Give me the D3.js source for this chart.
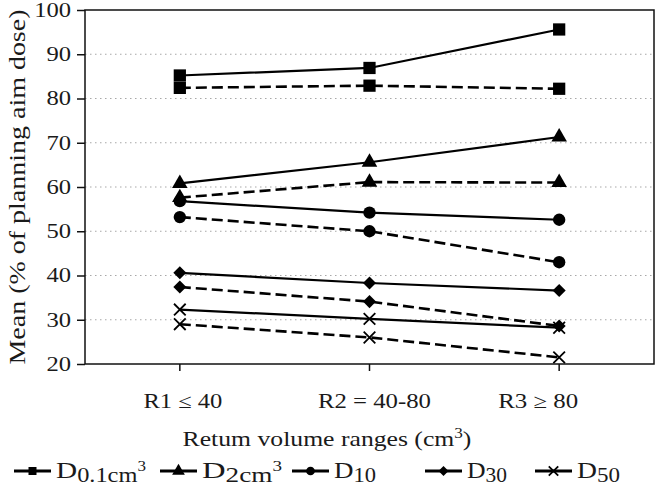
<!DOCTYPE html>
<html>
<head>
<meta charset="utf-8">
<script src="https://cdn.jsdelivr.net/npm/d3@7"></script>
<style>
html,body{margin:0;padding:0;background:#fff;}
text{font-family:"Liberation Serif","DejaVu Serif",serif;fill:#1a1a1a;}
</style>
</head>
<body>
<svg id="chart" width="655" height="487"></svg>
<script>
// ---- data ----
const categories = ["R1 \u2264 40", "R2 = 40-80", "R3 \u2265 80"];
const yTicks = [20, 30, 40, 50, 60, 70, 80, 90, 100];
const seriesNames = ["D0.1cm3", "D2cm3", "D10", "D30", "D50"];
const seriesSymbols = ["square", "triangle", "circle", "diamond", "cross"];
// solid lines
const d01Solid = [85.2, 86.9, 95.6];
const d2Solid  = [60.8, 65.6, 71.3];
const d10Solid = [56.8, 54.2, 52.6];
const d30Solid = [40.6, 38.3, 36.6];
const d50Solid = [32.3, 30.2, 28.2];
// dashed lines
const d01Dashed = [82.4, 82.9, 82.2];
const d2Dashed  = [57.6, 61.1, 61.0];
const d10Dashed = [53.2, 50.0, 43.0];
const d30Dashed = [37.4, 34.1, 28.6];
const d50Dashed = [29.0, 26.0, 21.5];

const series = [
  {sym:"square", dash:false, v:d01Solid},
  {sym:"square", dash:true,  v:d01Dashed},
  {sym:"triangle", dash:false, v:d2Solid},
  {sym:"triangle", dash:true,  v:d2Dashed},
  {sym:"circle", dash:false, v:d10Solid},
  {sym:"circle", dash:true,  v:d10Dashed},
  {sym:"diamond", dash:false, v:d30Solid},
  {sym:"diamond", dash:true,  v:d30Dashed},
  {sym:"cross", dash:false, v:d50Solid},
  {sym:"cross", dash:true,  v:d50Dashed}
];

const svg = d3.select("#chart");
const L = 85, R = 654, T = 10, B = 364;

const x = d3.scaleBand().domain(categories).range([L, R]);
const y = d3.scaleLinear().domain([20, 100]).range([B, T]);

// stretch a text horizontally about its anchor point to a target width
function fitWidth(sel, target) {
  sel.each(function () {
    const node = this;
    const w = node.getBBox().width;
    if (!w) return;
    const s = target / w;
    const ax = +(node.getAttribute("x") || 0);
    node.setAttribute("transform", `translate(${ax},0) scale(${s},1) translate(${-ax},0)`);
  });
}

// gridlines
svg.append("g").selectAll("line").data(yTicks.filter(t => t > 20 && t < 100)).join("line")
  .attr("x1", L).attr("x2", R).attr("y1", d => y(d)).attr("y2", d => y(d))
  .attr("stroke", "#a8a8a8").attr("stroke-width", 1.2).attr("stroke-dasharray", "1.5,3.5");

// frame
svg.append("rect").attr("x", L).attr("y", T).attr("width", R - L).attr("height", B - T)
  .attr("fill", "none").attr("stroke", "#111").attr("stroke-width", 1.5);

// y axis
const yAxis = d3.axisLeft(y).tickValues(yTicks).tickSize(8).tickPadding(6);
const gy = svg.append("g").attr("transform", `translate(${L},0)`).call(yAxis);
gy.select(".domain").remove();
gy.selectAll(".tick line").attr("stroke", "#111").attr("stroke-width", 1.5);
gy.selectAll(".tick text").style("font-size", "20px").attr("fill", "#1a1a1a")
  .attr("font-family", "Liberation Serif")
  .each(function (d) { fitWidth(d3.select(this), String(d).length * 12.3); });

// x axis
const xLabelShift = [3, 5, -21];
const xAxis = d3.axisBottom(x).tickSize(7).tickPadding(23);
const gx = svg.append("g").attr("transform", `translate(0,${B})`).call(xAxis);
gx.select(".domain").remove();
gx.selectAll(".tick line").attr("stroke", "#111").attr("stroke-width", 1.5);
const xLabelW = [79, 113, 80];
gx.selectAll(".tick text").style("font-size", "20px").attr("fill", "#1a1a1a")
  .attr("font-family", "Liberation Serif")
  .attr("x", (d, i) => xLabelShift[i])
  .each(function (d, i) { fitWidth(d3.select(this), xLabelW[i]); });

// axis titles
svg.append("text").attr("transform", "translate(25,187) rotate(-90)")
  .attr("text-anchor", "middle").style("font-size", "24px")
  .attr("textLength", 355).attr("lengthAdjust", "spacingAndGlyphs")
  .text("Mean (% of planning aim dose)");
const xt = svg.append("text").attr("x", 327).attr("y", 446)
  .attr("text-anchor", "middle").style("font-size", "21px");
xt.append("tspan").text("Retum volume ranges (cm");
xt.append("tspan").attr("dy", -8).style("font-size", "14px").text("3");
xt.append("tspan").attr("dy", 8).text(")");
fitWidth(xt, 289);

// markers
const symMap = {
  square: d3.symbolSquare, triangle: d3.symbolTriangle, circle: d3.symbolCircle,
  diamond: d3.symbolSquare, cross: d3.symbolX
};
const symRot = {square: 0, triangle: 0, circle: 0, diamond: 45, cross: 0};
const symSize = {square: 150, triangle: 105, circle: 120, diamond: 85, cross: 90};
const line = d3.line().x((d, i) => x(categories[i]) + x.bandwidth() / 2).y(d => y(d));

series.forEach(s => {
  svg.append("path").attr("d", line(s.v)).attr("fill", "none")
    .attr("stroke", "#000").attr("stroke-width", s.dash ? 2.6 : 2.2)
    .attr("stroke-dasharray", s.dash ? "11,5" : null);
});
series.forEach(s => {
  const isX = s.sym === "cross";
  svg.append("g").selectAll("path").data(s.v).join("path")
    .attr("transform", (d, i) => `translate(${x(categories[i]) + x.bandwidth() / 2},${y(d)}) rotate(${symRot[s.sym]})`)
    .attr("d", d3.symbol(symMap[s.sym], symSize[s.sym]))
    .attr("fill", isX ? "none" : "#000")
    .attr("stroke", "#000").attr("stroke-width", isX ? 1.8 : 0);
});

// legend
const legendItems = [
  {sym:"square", x:14, w:90, label:["D","0.1cm","3"]},
  {sym:"triangle", x:160, w:80, label:["D","2cm","3"]},
  {sym:"circle", x:292, w:42, label:["D","10",null]},
  {sym:"diamond", x:425, w:40, label:["D","30",null]},
  {sym:"cross", x:535, w:43, label:["D","50",null]}
];
const legSize = {square: 64, triangle: 70, circle: 60, diamond: 50, cross: 60};
const ly = 471;
legendItems.forEach((it, k) => {
  const g = svg.append("g");
  g.append("line").attr("x1", it.x).attr("x2", it.x + 37).attr("y1", ly).attr("y2", ly)
    .attr("stroke", "#000").attr("stroke-width", 2.8);
  g.append("path").attr("transform", `translate(${it.x + 18.5},${ly}) rotate(${symRot[it.sym]})`)
    .attr("d", d3.symbol(symMap[it.sym], legSize[it.sym]))
    .attr("fill", it.sym === "cross" ? "none" : "#000")
    .attr("stroke", "#000").attr("stroke-width", it.sym === "cross" ? 1.8 : 0);
  const t = g.append("text").attr("x", it.x + 42).attr("y", ly + 7).style("font-size", "24px");
  t.append("tspan").text(it.label[0]);
  t.append("tspan").attr("dy", 4).style("font-size", "20px").text(it.label[1]);
  if (it.label[2]) t.append("tspan").attr("dy", -11).style("font-size", "14px").text(it.label[2]);
  fitWidth(t, it.w);
});
</script>
</body>
</html>
